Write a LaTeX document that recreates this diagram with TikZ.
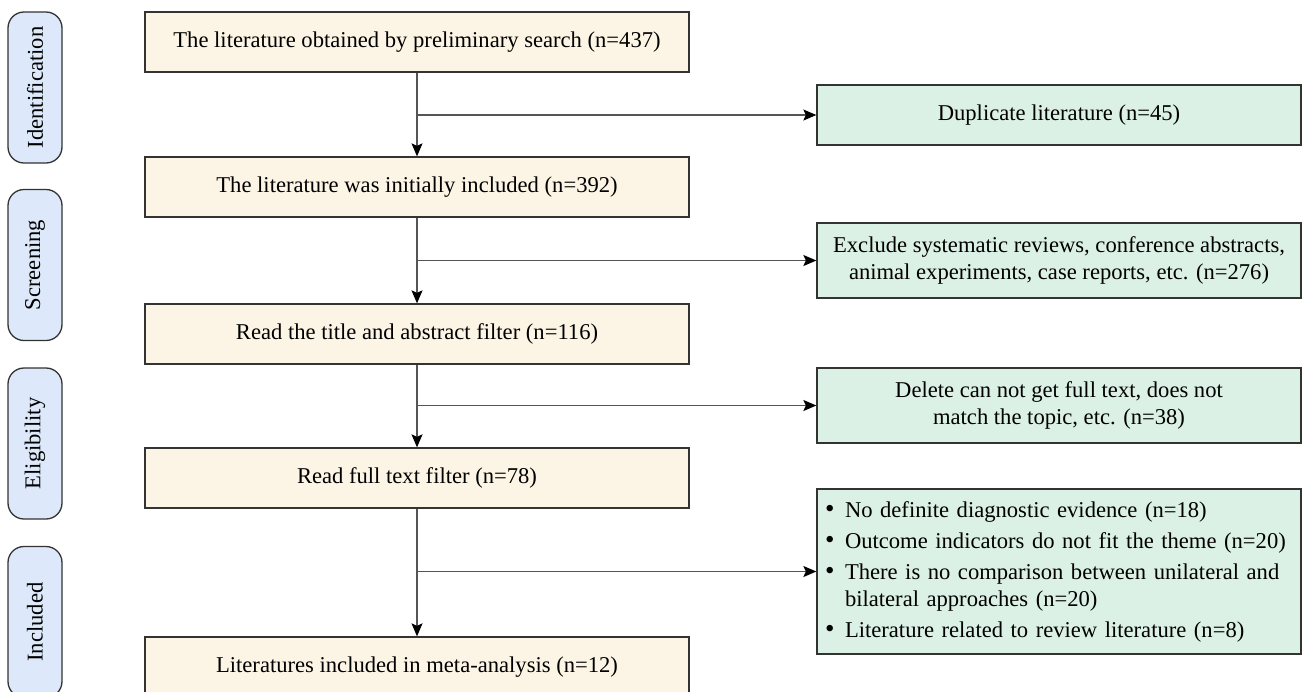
\documentclass[tikz,border=0pt]{standalone}
\usepackage{fontspec}
\setmainfont{Liberation Serif}
\usetikzlibrary{arrows.meta}
\definecolor{cream}{HTML}{FCF5E5}
\definecolor{mint}{HTML}{DCF1E5}
\definecolor{pale}{HTML}{DDE9FA}
\definecolor{edge}{HTML}{333333}
\definecolor{wire}{HTML}{555555}
\newcommand{\blt}{\makebox[20pt][l]{\smash{\fontsize{27}{27}\selectfont\textbullet}}}
\begin{document}
\begin{tikzpicture}[x=1pt,y=-1pt,
  every node/.style={font=\fontsize{22.6}{27}\selectfont, inner sep=0pt},
  mainbox/.style={draw=edge, line width=1.3pt, fill=cream, minimum width=544pt, minimum height=60pt, align=center},
  sidebox/.style={draw=edge, line width=1.3pt, fill=mint, minimum width=484pt, align=center},
  phase/.style={draw=edge, line width=1.3pt, fill=pale, rounded corners=16pt, rotate=90, minimum width=151pt, minimum height=54pt},
  flow/.style={draw=wire, line width=1.3pt, -{Stealth[length=13pt,width=11pt,inset=2.5pt,color=black]}}
]
\useasboundingbox (0,0) rectangle (1311,691);
\clip (0,0) rectangle (1311,691);

% phase pills
\node[phase] (p1) at (35,87.5) {Identification};
\node[phase] (p2) at (35,265) {Screening};
\node[phase] (p3) at (35,443.5) {Eligibility};
\node[phase] (p4) at (35,622) {Included};

% main column
\node[mainbox] (b1) at (417,42) {The literature obtained by preliminary search (n=437)};
\node[mainbox] (b2) at (417,187) {The literature was initially included (n=392)};
\node[mainbox] (b3) at (417,334) {Read the title and abstract filter (n=116)};
\node[mainbox] (b4) at (417,478) {Read full text filter (n=78)};
\node[mainbox] (b5) at (417,667) {Literatures included in meta-analysis (n=12)};

% side boxes
\node[sidebox, minimum height=60pt] (r1) at (1059,115) {Duplicate literature (n=45)};
\node[sidebox, minimum height=75pt] (r2) at (1059,260.5) {Exclude systematic reviews, conference abstracts,\\animal experiments, case reports, etc. (n=276)};
\node[sidebox, minimum height=75pt] (r3) at (1059,405.5) {Delete can not get full text, does not\\match the topic, etc. (n=38)};
\node[sidebox, minimum height=165pt, align=left, text width=468pt, inner xsep=8pt] (r4) at (1059,571.5) {%
\blt No definite diagnostic evidence (n=18)\\[4pt]
\blt Outcome indicators do not fit the theme (n=20)\\[4pt]
\blt There is no comparison between unilateral and\\
\hspace*{20pt}bilateral approaches (n=20)\\[4pt]
\blt Literature related to review literature (n=8)};

% junctions
\coordinate (j1) at (b1.south |- r1.west);
\coordinate (j2) at (b2.south |- r2.west);
\coordinate (j3) at (b3.south |- r3.west);
\coordinate (j4) at (b4.south |- r4.west);

% connectors
\draw[flow] (b1.south) -- (b2.north);
\draw[flow] (b2.south) -- (b3.north);
\draw[flow] (b3.south) -- (b4.north);
\draw[flow] (b4.south) -- (b5.north);
\draw[flow] (j1) -- (r1.west);
\draw[flow] (j2) -- (r2.west);
\draw[flow] (j3) -- (r3.west);
\draw[flow] (j4) -- (r4.west);
\end{tikzpicture}
\end{document}
